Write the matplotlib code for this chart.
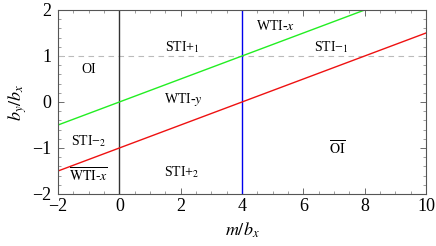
import matplotlib
matplotlib.use("Agg")
import matplotlib.pyplot as plt
from matplotlib.ticker import MultipleLocator

plt.rcParams.update(
    {
        "font.family": ["Liberation Serif", "DejaVu Serif"],
        "mathtext.fontset": "stix",
        "xtick.direction": "in",
        "ytick.direction": "in",
        "xtick.top": True,
        "ytick.right": True,
    }
)

# boundary lines (endpoints in data units)
green_x = [-2, 8]
green_y = [-0.5, 2]
red_x = [-2, 10]
red_y = [-1.5, 1.5]
black_vline = 0
blue_vline = 4
dashed_y = 1

# region labels
labels = [
    "OI",
    "STI+$_1$",
    "WTI-$y$",
    "STI\u2212$_2$",
    r"$\overline{\mathrm{WTI}\text{-}x}$",
    "STI+$_2$",
    "WTI-$x$",
    "STI\u2212$_1$",
    r"$\overline{\mathrm{OI}}$",
]
label_x = [-1.0, 2.05, 2.1, -1.0, -1.0, 2.05, 5.1, 6.9, 7.1]
label_y = [0.7, 1.2, 0.05, -0.85, -1.6, -1.52, 1.65, 1.2, -1.0]

fig = plt.figure(figsize=(4.36, 2.46), dpi=100)
ax = fig.add_axes([58 / 436, 52 / 246, 368 / 436, 184 / 246])

ax.axhline(dashed_y, color="#bbbbbb", lw=0.8, ls=(0, (5, 4)))
ax.axvline(black_vline, color="#333333", lw=1.0)
ax.axvline(blue_vline, color="#0000ee", lw=1.0)
ax.plot(green_x, green_y, color="#22ee22", lw=1.0)
ax.plot(red_x, red_y, color="#ee1111", lw=1.0)

for s, x, y in zip(labels, label_x, label_y):
    ax.text(x, y, s, ha="center", va="center", fontsize=10)

ax.set_xlim(-2, 10)
ax.set_ylim(-2, 2)
ax.xaxis.set_major_locator(MultipleLocator(2))
ax.xaxis.set_minor_locator(MultipleLocator(0.5))
ax.yaxis.set_major_locator(MultipleLocator(1))
ax.yaxis.set_minor_locator(MultipleLocator(0.2))
ax.tick_params(which="major", length=4, width=0.6, color="#555555", labelsize=13)
ax.tick_params(axis="x", which="major", pad=3)
ax.tick_params(axis="y", which="major", pad=5)
ax.tick_params(which="minor", length=2, width=0.5, color="#777777")
for sp in ax.spines.values():
    sp.set_color("#555555")
    sp.set_linewidth(0.8)

ax.set_xlabel("$m/b_x$", fontsize=13, labelpad=4)
ax.set_ylabel("$b_y/b_x$", fontsize=13, labelpad=2)

fig.savefig("out.png", dpi=100)
